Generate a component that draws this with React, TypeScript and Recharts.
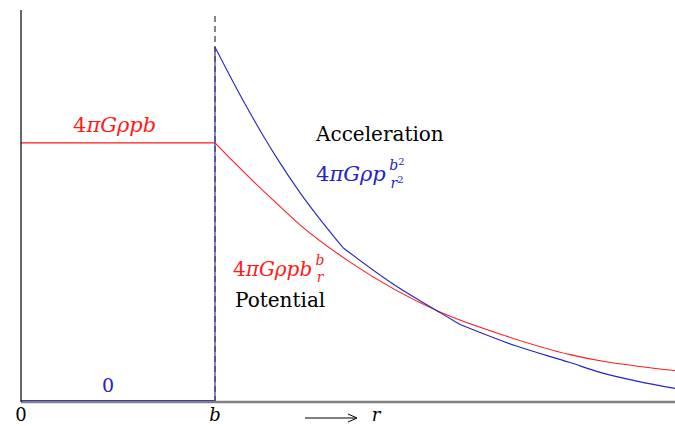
import React from 'react';
import { LineChart, Line, XAxis, YAxis, ReferenceLine, Customized } from 'recharts';

// potential: constant inside b, falling off outside
const rPotentialIn = [0, 1];
const potentialIn = [1, 1];
const rPotentialOut = [1, 1.1, 1.2, 1.3, 1.438, 1.7, 2.16, 2.5, 2.83, 3.0, 3.2, 3.371];
const potentialOut = [1, 0.923, 0.849, 0.778, 0.682, 0.535, 0.343, 0.25, 0.178, 0.152, 0.131, 0.116];

// acceleration: zero inside b, jumps at b and then decays
const rAccelIn = [0, 1, 1];
const accelIn = [0, 0, 1.372];
const rAccelOut = [1, 1.15, 1.25, 1.32, 1.438, 1.66, 1.91, 2.16, 2.263, 2.55, 2.83, 2.985, 3.18, 3.371];
const accelOut = [1.372, 1.158, 1.026, 0.94, 0.807, 0.593, 0.456, 0.341, 0.295, 0.212, 0.147, 0.109, 0.074, 0.047];
// the decaying part has two corners; each piece between them is smoothed on its own
const accelCorners = [1.66, 2.263];

const xTicks = [0, 1];
const xTickLabels = ['0', 'b'];

const RED = '#ff1a1a';
const BLUE = '#2424c8';
const FONT = '"DejaVu Serif", serif';

const toPoints = (rs: number[], vs: number[]) => rs.map((r, i) => ({ r, v: vs[i] }));

const splitAt = (rs: number[], vs: number[], cuts: number[]) => {
  const pieces: { r: number; v: number }[][] = [];
  let start = 0;
  cuts.forEach((c) => {
    const end = rs.indexOf(c);
    pieces.push(toPoints(rs.slice(start, end + 1), vs.slice(start, end + 1)));
    start = end;
  });
  pieces.push(toPoints(rs.slice(start), vs.slice(start)));
  return pieces;
};

const accelPieces = splitAt(rAccelOut, accelOut, accelCorners);

const XTick = (props: any) => {
  const { x, payload } = props;
  const idx = xTicks.indexOf(payload.value);
  const label = xTickLabels[idx];
  return (
    <text
      x={x}
      y={421}
      textAnchor="middle"
      fontFamily={FONT}
      fontSize={18}
      fontStyle={label === 'b' ? 'italic' : 'normal'}
      fill="#000"
    >
      {label}
    </text>
  );
};

const Annotations = () => (
  <g fontFamily={FONT}>
    {/* value inside b */}
    <text x={73} y={132} fontSize={21} fill={RED}>
      4<tspan fontStyle="italic">πGρpb</tspan>
    </text>
    <text x={108} y={392} fontSize={19} fill={BLUE} textAnchor="middle">0</text>

    {/* acceleration */}
    <text x={316} y={141} fontSize={20} fill="#000">Acceleration</text>
    <text x={316} y={181} fontSize={21} fill={BLUE}>
      4<tspan fontStyle="italic">πGρp</tspan>
    </text>
    <text x={397} y={170} fontSize={14} fill={BLUE} textAnchor="middle">
      <tspan fontStyle="italic">b</tspan>
      <tspan fontSize={10} dy={-5}>2</tspan>
    </text>
    <text x={397} y={188} fontSize={14} fill={BLUE} textAnchor="middle">
      <tspan fontStyle="italic">r</tspan>
      <tspan fontSize={10} dy={-5}>2</tspan>
    </text>

    {/* potential */}
    <text x={233} y={276} fontSize={20} fill={RED}>
      4<tspan fontStyle="italic">πGρpb</tspan>
    </text>
    <text x={320} y={265} fontSize={14} fill={RED} fontStyle="italic" textAnchor="middle">b</text>
    <text x={320} y={282} fontSize={14} fill={RED} fontStyle="italic" textAnchor="middle">r</text>
    <text x={235} y={307} fontSize={20} fill="#000">Potential</text>

    {/* r direction */}
    <line x1={305} y1={418} x2={356} y2={418} stroke="#000" strokeWidth={1} />
    <path d="M348,414 L357,418 L348,422" fill="none" stroke="#000" strokeWidth={1} />
    <text x={376} y={421} fontSize={18} fontStyle="italic" fill="#000" textAnchor="middle">r</text>
  </g>
);

export default function App() {
  return (
    <div style={{ position: 'fixed', left: 0, top: 0, width: 675, height: 426, background: '#fff' }}>
      <LineChart width={675} height={426} margin={{ top: 10, right: 0, left: 0, bottom: 0 }}>
        <XAxis
          dataKey="r"
          type="number"
          domain={[0, 3.371]}
          ticks={xTicks}
          tick={<XTick />}
          tickLine={false}
          height={24}
          axisLine={{ stroke: '#808080', strokeWidth: 2.4 }}
          allowDataOverflow
        />
        <YAxis
          type="number"
          domain={[-0.006, 1.516]}
          width={21}
          tick={false}
          tickLine={false}
          axisLine={{ stroke: '#000', strokeWidth: 1.2 }}
          allowDataOverflow
        />
        <Line
          data={toPoints(rPotentialIn, potentialIn)}
          dataKey="v"
          type="linear"
          stroke={RED}
          strokeWidth={1.1}
          dot={false}
          isAnimationActive={false}
        />
        <Line
          data={toPoints(rPotentialOut, potentialOut)}
          dataKey="v"
          type="monotone"
          stroke={RED}
          strokeWidth={1.1}
          dot={false}
          isAnimationActive={false}
        />
        <Line
          data={toPoints(rAccelIn, accelIn)}
          dataKey="v"
          type="linear"
          stroke={BLUE}
          strokeWidth={1.1}
          dot={false}
          isAnimationActive={false}
        />
        {accelPieces.map((piece, i) => (
          <Line
            key={i}
            data={piece}
            dataKey="v"
            type="monotone"
            stroke={BLUE}
            strokeWidth={1.1}
            dot={false}
            isAnimationActive={false}
          />
        ))}
        <ReferenceLine
          segment={[{ x: 1, y: -0.006 }, { x: 1, y: 1.496 }]}
          stroke="#444"
          strokeWidth={1.3}
          strokeDasharray="6 4"
        />
        <Customized component={Annotations} />
      </LineChart>
    </div>
  );
}
